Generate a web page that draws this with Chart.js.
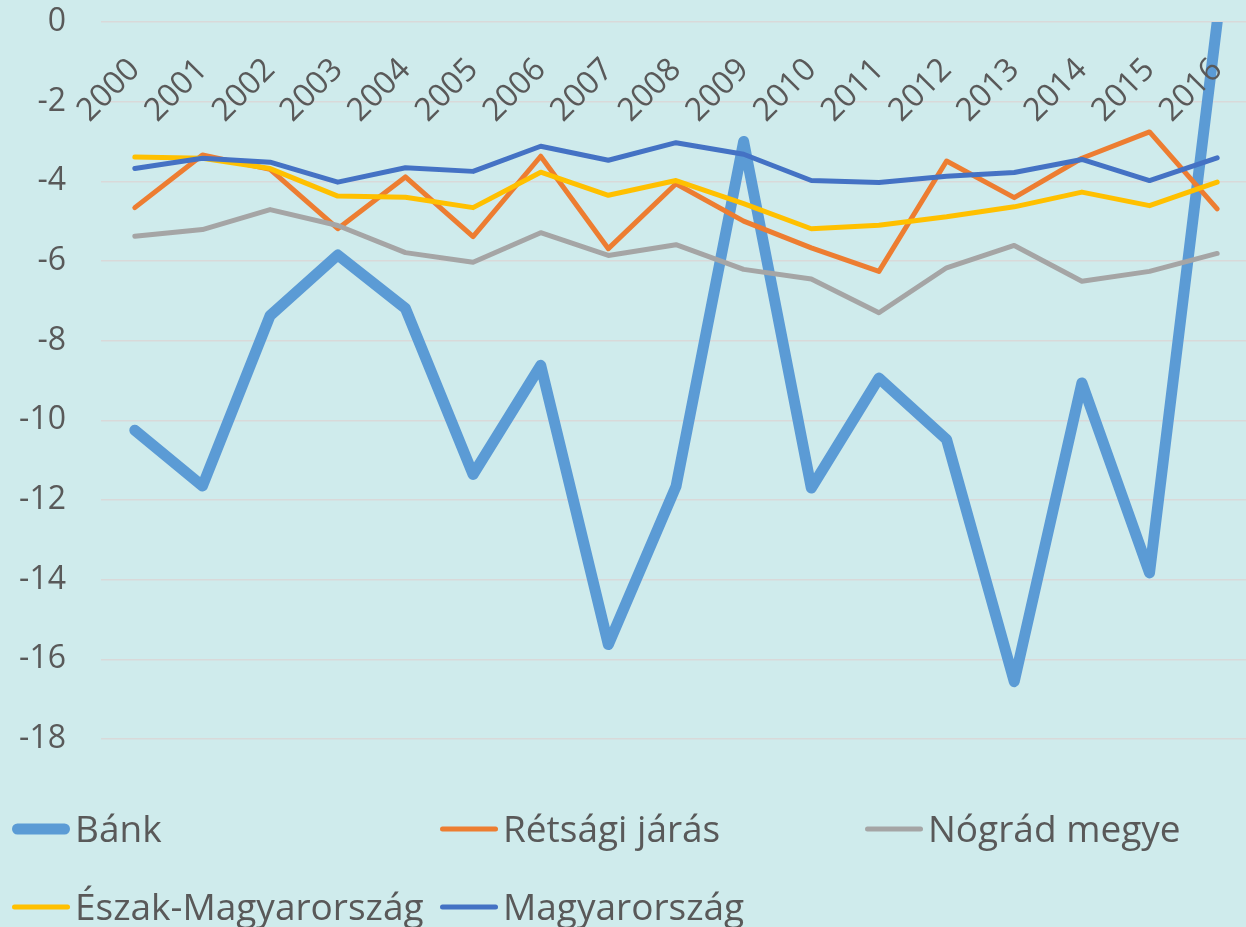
<!DOCTYPE html>
<html>
<head>
<meta charset="utf-8">
<title>Bánk</title>
<script src="https://cdn.jsdelivr.net/npm/chart.js@4/dist/chart.umd.min.js"></script>
<style>
  html, body { margin: 0; padding: 0; overflow: hidden; background: #cfebec; }
  canvas { display: block; }
</style>
</head>
<body>
<canvas id="chart" width="1251" height="927"></canvas>
<script>
/* ── Data ── */
const years = ["2000", "2001", "2002", "2003", "2004", "2005", "2006", "2007", "2008",
  "2009", "2010", "2011", "2012", "2013", "2014", "2015", "2016"];

const bank = [-10.25, -11.65, -7.37, -5.85, -7.19, -11.36, -8.62, -15.63, -11.66,
  -3.0, -11.7, -8.94, -10.48, -16.56, -9.06, -13.83, 0];
const retsag = [-4.66, -3.34, -3.7, -5.19, -3.89, -5.39, -3.37, -5.69, -4.06,
  -5.0, -5.67, -6.26, -3.49, -4.41, -3.42, -2.76, -4.69];
const nograd = [-5.38, -5.21, -4.71, -5.11, -5.79, -6.03, -5.29, -5.86, -5.59,
  -6.21, -6.45, -7.3, -6.17, -5.61, -6.51, -6.26, -5.81];
const eszak = [-3.39, -3.42, -3.68, -4.37, -4.4, -4.66, -3.77, -4.35, -3.98,
  -4.56, -5.19, -5.1, -4.89, -4.64, -4.27, -4.61, -4.02];
const magyar = [-3.68, -3.42, -3.52, -4.02, -3.66, -3.75, -3.12, -3.47, -3.03,
  -3.32, -3.98, -4.03, -3.87, -3.78, -3.45, -3.98, -3.41];

const seriesNames = ["Bánk", "Rétsági járás", "Nógrád megye", "Észak-Magyarország", "Magyarország"];
const yTicks = [0, -2, -4, -6, -8, -10, -12, -14, -16, -18];

const TEXT = "#595959";
const FONT = "'Open Sans', 'Noto Sans', sans-serif";

function line(label, data, color, width, order) {
  return {
    label, data, order,
    borderColor: color,
    backgroundColor: color,
    borderWidth: width,
    borderCapStyle: "round",
    borderJoinStyle: "round",
    pointRadius: 0,
    tension: 0,
    fill: false,
    clip: 0,
  };
}

// ── Background + legend plugins ──
const bgPlugin = {
  id: "bg",
  beforeDraw(chart) {
    const c = chart.ctx;
    c.save();
    c.fillStyle = "#cfebec";
    c.fillRect(0, 0, chart.width, chart.height);
    c.restore();
  },
};

// legend laid out on a 3-column grid, like the original
const gridLegend = {
  id: "gridLegend",
  afterDraw(chart) {
    const c = chart.ctx;
    const cols = [12, 440, 865];
    const rows = [829, 907];
    c.save();
    c.font = `37px ${FONT}`;
    c.fillStyle = TEXT;
    c.textBaseline = "alphabetic";
    c.textAlign = "left";
    chart.data.datasets.forEach((ds, i) => {
      const x = cols[i % 3];
      const y = rows[Math.floor(i / 3)];
      const w = ds.borderWidth;
      c.strokeStyle = ds.borderColor;
      c.lineWidth = w;
      c.lineCap = "round";
      c.beginPath();
      c.moveTo(x + w / 2, y);
      c.lineTo(x + 58 - w / 2, y);
      c.stroke();
      c.fillText(ds.label, x + 63, y + 13);
    });
    c.restore();
  },
};

// ── Chart ──
const ctx = document.getElementById("chart").getContext("2d");

new Chart(ctx, {
  type: "line",
  data: {
    labels: years,
    datasets: [
      line(seriesNames[0], bank, "#5b9bd5", 11, 5),
      line(seriesNames[1], retsag, "#ed7d31", 5, 4),
      line(seriesNames[2], nograd, "#a5a5a5", 5, 3),
      line(seriesNames[3], eszak, "#ffc000", 5, 2),
      line(seriesNames[4], magyar, "#4472c4", 5, 1),
    ],
  },
  options: {
    responsive: false,
    devicePixelRatio: 1,
    animation: false,
    layout: { padding: { top: 22, right: 0, bottom: 188, left: 0 } },
    plugins: {
      legend: { display: false },
      tooltip: { enabled: false },
    },
    scales: {
      x: {
        position: { y: 0 },
        offset: true,
        afterFit: (scale) => {
          scale.paddingLeft = 0;
          scale.paddingRight = 0;
        },
        grid: { display: false, drawTicks: false },
        border: { display: false },
        ticks: {
          z: 1, // year labels sit on top of the lines
          color: TEXT,
          font: { family: FONT, size: 32 },
          minRotation: 45,
          maxRotation: 45,
          autoSkip: false,
          padding: 29,
        },
      },
      y: {
        min: -18,
        max: 0,
        afterFit: (scale) => {
          scale.width = 101;
          scale.paddingTop = 0;
          scale.paddingBottom = 0;
        },
        afterBuildTicks: (scale) => { scale.ticks = yTicks.map((v) => ({ value: v })); },
        grid: { color: "#d9d9d9", lineWidth: 1.5, drawTicks: false },
        border: { display: false },
        ticks: {
          color: TEXT,
          font: { family: FONT, size: 32 },
          padding: 35,
        },
      },
    },
  },
  plugins: [bgPlugin, gridLegend],
});
</script>
</body>
</html>
